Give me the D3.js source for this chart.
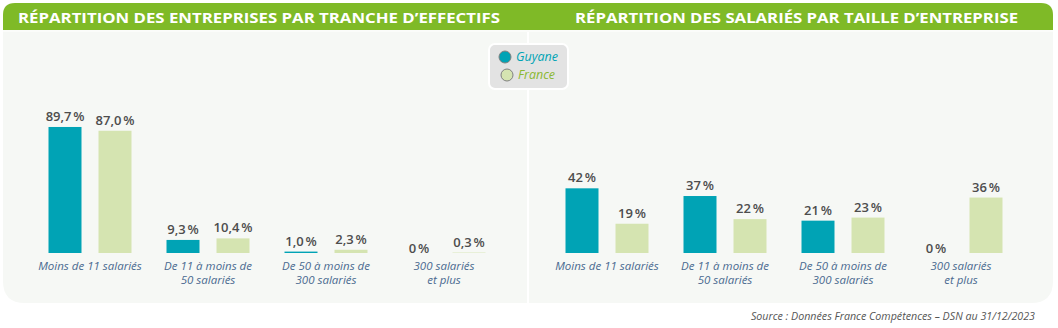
<!DOCTYPE html>
<html><head><meta charset="utf-8">
<script src="https://cdn.jsdelivr.net/npm/d3@7"></script>
<style>
body{margin:0;background:#fff;}
svg{display:block;font-family:"Open Sans",sans-serif;}
</style></head>
<body><svg id="c" width="1058" height="328"></svg>
<script>
const categories = [["Moins de 11 salariés"],["De 11 à moins de","50 salariés"],["De 50 à moins de","300 salariés"],["300 salariés","et plus"]];
const seriesNames = ["Guyane","France"];
const entreprisesGuyane = [89.7, 9.3, 1.0, 0];
const entreprisesFrance = [87.0, 10.4, 2.3, 0.3];
const salariesGuyane = [42, 37, 21, 0];
const salariesFrance = [19, 22, 23, 36];
const entreprisesLabelsG = ["89,7\u202F%","9,3\u202F%","1,0\u202F%","0\u202F%"];
const entreprisesLabelsF = ["87,0\u202F%","10,4\u202F%","2,3\u202F%","0,3\u202F%"];
const salariesLabelsG = ["42\u202F%","37\u202F%","21\u202F%","0\u202F%"];
const salariesLabelsF = ["19\u202F%","22\u202F%","23\u202F%","36\u202F%"];
const titles = ["RÉPARTITION DES ENTREPRISES PAR TRANCHE D’EFFECTIFS","RÉPARTITION DES SALARIÉS PAR TAILLE D’ENTREPRISE"];
const source = "Source :  Données France Compétences – DSN au 31/12/2023";

const colors = {Guyane:"#00a3b5", France:"#d5e4b1"};
const svg = d3.select("#c");

function roundedPath(x,y,w,h,rt,rb){
  return `M${x+rt},${y}H${x+w-rt}Q${x+w},${y} ${x+w},${y+rt}V${y+h-rb}Q${x+w},${y+h} ${x+w-rb},${y+h}H${x+rb}Q${x},${y+h} ${x},${y+h-rb}V${y+rt}Q${x},${y} ${x+rt},${y}Z`;
}
svg.append("path").attr("d",roundedPath(3,3,1050,300,12,22)).attr("fill","#f6f8f5");
svg.append("path").attr("d",`M3,30V15Q3,3 15,3H1041Q1053,3 1053,15V30Z`).attr("fill","#7fba27");
svg.append("rect").attr("x",3).attr("y",30).attr("width",1050).attr("height",2).attr("fill","#fbfcfa");
svg.append("rect").attr("x",527).attr("y",32).attr("width",2).attr("height",271).attr("fill","#ffffff");

svg.append("text").attr("x",18).attr("y",23).attr("fill","#fff").attr("font-weight",700).attr("font-size",15)
  .attr("textLength",482).attr("lengthAdjust","spacingAndGlyphs").text(titles[0]);
svg.append("text").attr("x",575).attr("y",23).attr("fill","#fff").attr("font-weight",700).attr("font-size",15)
  .attr("textLength",443).attr("lengthAdjust","spacingAndGlyphs").text(titles[1]);

function drawChart(x0, x1, yTopPx, g, f, lg, lf){
  const x = d3.scaleBand().domain(d3.range(categories.length)).range([x0,x1]);
  const xs = d3.scaleBand().domain(seriesNames).range([0,83]).paddingInner(17/50);
  const y = d3.scaleLinear().domain([0,100]).range([253, yTopPx]);
  const grp = svg.append("g");
  const data = categories.map((c,i)=>({i, vals:[{s:"Guyane",v:g[i],l:lg[i]},{s:"France",v:f[i],l:lf[i]}]}));
  const cg = grp.selectAll("g.cat").data(data).join("g")
    .attr("transform",d=>`translate(${x(d.i)+x.bandwidth()/2-41.5},0)`);
  cg.selectAll("rect").data(d=>d.vals).join("rect")
    .attr("x",d=>xs(d.s)).attr("width",xs.bandwidth())
    .attr("y",d=>y(d.v)).attr("height",d=>y(0)-y(d.v))
    .attr("fill",d=>colors[d.s]);
  cg.selectAll("text.val").data(d=>d.vals).join("text").attr("class","val")
    .attr("x",d=>xs(d.s)+xs.bandwidth()/2)
    .attr("y",d=>d.v===0 ? y(0) : y(d.v)-6)
    .attr("text-anchor","middle").attr("font-size",13).attr("font-weight",600)
    .attr("fill","#4d4d4d").text(d=>d.l);
  cg.each(function(d){
    const sel = d3.select(this);
    categories[d.i].forEach((line,k)=>{
      sel.append("text").attr("text-anchor","middle")
        .attr("font-size",11.5).attr("font-style","italic").attr("fill","#4a6a90")
        .attr("x",41.5).attr("y",270+k*13.5).text(line);
    });
  });
}
drawChart(31, 503, 112.5, entreprisesGuyane, entreprisesFrance, entreprisesLabelsG, entreprisesLabelsF);
drawChart(548, 1020, 99, salariesGuyane, salariesFrance, salariesLabelsG, salariesLabelsF);

const lg = svg.append("g");
lg.append("rect").attr("x",489).attr("y",44).attr("width",79).attr("height",45).attr("rx",6)
  .attr("fill","#e3e3e3").attr("stroke","#fff").attr("stroke-width",2);
seriesNames.forEach((s,i)=>{
  lg.append("circle").attr("cx",505+i*2).attr("cy",57+i*18).attr("r",6)
    .attr("fill",colors[s]).attr("stroke","#808080").attr("stroke-width",1);
  lg.append("text").attr("x",516+i*2).attr("y",61+i*18).attr("font-size",12.5).attr("font-style","italic")
    .attr("fill",i===0?"#00a3b5":"#8ab832").text(s);
});

svg.append("text").attr("x",1035).attr("y",320).attr("text-anchor","end").attr("font-size",10.7)
  .attr("font-style","italic").attr("fill","#555").text(source);
</script></body></html>
